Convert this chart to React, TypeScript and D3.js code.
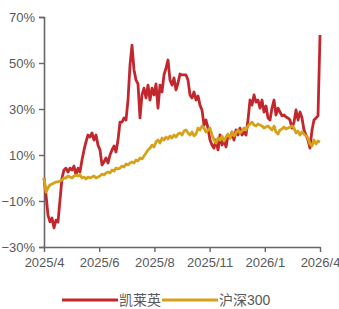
import React, { useEffect, useRef } from "react";
import * as d3 from "d3";

// cumulative return, %, sampled across the trading days 2025/4 - 2026/4
const kailaiying = [
  0, -7.4, -16.1, -19.1, -17.4, -21.7, -18.3, -19.1, -9.6, 0,
  3.5, 4.3, 2.6, 4.3, 3.5, 5.2, 1.3, 4.3, 2.6, 7.8,
  12.2, 15.7, 18.7, 17.8, 19.6, 16.5, 18.7, 14.3, 12.2, 5.7,
  7.0, 8.7, 6.5, 10, 12.2, 13.9, 11.3, 16.5, 24.3, 24.3,
  26.1, 25.2, 33.9, 49.1, 57.8, 47, 42.6, 40.9, 26.1, 36.1,
  39.1, 34.8, 40.4, 33.9, 39.1, 36.1, 40.9, 30.4, 40.4, 37.4,
  44.8, 47.8, 51.3, 42.6, 40.4, 43.5, 38.3, 41.3, 45.2, 44.8,
  44.8, 44.8, 42.6, 36.1, 34.8, 37.4, 33.9, 35.7, 31.7, 29.6,
  23, 25.2, 21.7, 16.5, 14.3, 13, 16.5, 12.2, 18.7, 14.3,
  16.5, 13.5, 18.7, 17.4, 20, 16.5, 20.9, 18.7, 21.7, 18.7,
  20, 18.7, 25.2, 33.9, 31.7, 36.1, 33, 33.9, 30.4, 33.9,
  28.7, 31.3, 26.1, 25.2, 30.4, 33.9, 27.4, 30.4, 28.7, 27,
  27.4, 26.5, 26.1, 25.2, 21.7, 24.3, 29.6, 25.2, 28.7, 26.1,
  20.9, 18.7, 16.5, 13.0, 20.9, 25.2, 26.1, 27, 62.2,
];

const hs300 = [
  0, -6.1, -4.3, -3.0, -2.6, -2.2, -1.7, -1.7, -1.3, -0.9,
  0, 0, 0.9, 0.4, 0, 0.9, 1.3, 0.9, 1.3, 0,
  0.4, -0.4, 0.4, 0, 0.4, 0.9, 0, 0.4, 0.9, 1.7,
  1.3, 2.2, 2.6, 2.2, 3.5, 3.0, 4.3, 3.9, 4.3, 5.2,
  4.8, 6.1, 5.7, 6.5, 7.0, 6.5, 7.8, 7.4, 8.7, 8.3,
  9.6, 10.9, 12.2, 13.0, 14.3, 13.5, 15.7, 16.5, 15.2, 17.4,
  16.5, 17.8, 17.0, 18.3, 17.4, 18.7, 17.8, 19.1, 19.6, 18.7,
  20.4, 20.9, 19.6, 18.7, 20.0, 18.3, 19.1, 21.7, 20.9, 22.6,
  21.7, 20.0, 20.9, 21.7, 18.7, 16.5, 15.2, 17.4, 16.5, 18.3,
  16.1, 17.8, 19.1, 17.4, 20.0, 18.3, 19.6, 20.9, 19.6, 20.4,
  21.7, 20.9, 22.6, 23.5, 24.3, 23.0, 22.6, 23.5, 23.0, 22.6,
  21.7, 22.2, 22.6, 21.7, 20.9, 22.6, 20.0, 19.1, 20.9, 21.3,
  22.2, 21.3, 21.7, 22.2, 22.6, 21.7, 19.6, 20.4, 18.7, 20.0,
  19.1, 18.3, 17.4, 14.8, 13.9, 16.5, 14.8, 16.1, 15.7,
];

const xTickLabels = ["2025/4", "2025/6", "2025/8", "2025/11", "2026/1", "2026/4"];
const yTicks = [-30, -10, 10, 30, 50, 70];

const series = [
  { name: "凯莱英", values: kailaiying, color: "#c1272d" },
  { name: "沪深300", values: hs300, color: "#d6a21a" },
];

const W = 339;
const H = 309;
const FONT = "'Liberation Sans', Arial, 'Noto Sans CJK SC', sans-serif";
const AXIS = "#666666";
const LABEL = "#595959";

export default function App() {
  const ref = useRef<SVGSVGElement>(null);

  useEffect(() => {
    const svg = d3.select(ref.current);
    svg.selectAll("*").remove();

    const left = 44, right = 320, top = 17, bottom = 247;

    const x = d3.scaleLinear().domain([0, kailaiying.length - 1]).range([left, right]);
    const xTick = d3.scalePoint<string>().domain(xTickLabels).range([left, right]);
    const y = d3.scaleLinear().domain([-30, 70]).range([bottom, top]);
    const fmt = d3.format("d");

    // y axis
    const gy = svg
      .append("g")
      .attr("transform", `translate(${left},0)`)
      .call(d3.axisLeft(y).tickValues(yTicks).tickSize(5).tickPadding(4).tickFormat((d) => fmt(d as number) + "%"));
    gy.select(".domain").attr("stroke", AXIS).attr("stroke-width", 1.6);
    gy.selectAll(".tick line").attr("stroke", AXIS).attr("stroke-width", 1.4);
    gy.selectAll(".tick text").attr("fill", LABEL).attr("font-size", 13).attr("font-family", FONT);

    // x axis
    const gx = svg
      .append("g")
      .attr("transform", `translate(0,${bottom})`)
      .call(d3.axisBottom(xTick).tickSize(5).tickPadding(6).tickSizeOuter(0));
    gx.select(".domain").attr("stroke", AXIS).attr("stroke-width", 1.6);
    gx.selectAll(".tick line").attr("stroke", AXIS).attr("stroke-width", 1.4);
    gx.selectAll(".tick text").attr("fill", LABEL).attr("font-size", 13).attr("font-family", FONT);

    const line = d3
      .line<number>()
      .x((_, i) => x(i))
      .y((d) => y(d));

    series.forEach((s) => {
      svg
        .append("path")
        .datum(s.values)
        .attr("fill", "none")
        .attr("stroke", s.color)
        .attr("stroke-width", 2.8)
        .attr("stroke-linejoin", "round")
        .attr("d", line);
    });

    // legend
    const legend = svg.append("g").attr("transform", "translate(62,300)");
    const slots = [0, 100];
    series.forEach((s, i) => {
      const g = legend.append("g").attr("transform", `translate(${slots[i]},0)`);
      g.append("line")
        .attr("x1", 0)
        .attr("x2", 56)
        .attr("y1", 0)
        .attr("y2", 0)
        .attr("stroke", s.color)
        .attr("stroke-width", 3);
      g.append("text")
        .attr("x", 57)
        .attr("y", 5)
        .attr("fill", LABEL)
        .attr("font-size", 14)
        .attr("font-family", FONT)
        .text(s.name);
    });
  }, []);

  return (
    <svg
      ref={ref}
      width={W}
      height={H}
      style={{ position: "fixed", left: 0, top: 0, background: "#fff" }}
    />
  );
}
